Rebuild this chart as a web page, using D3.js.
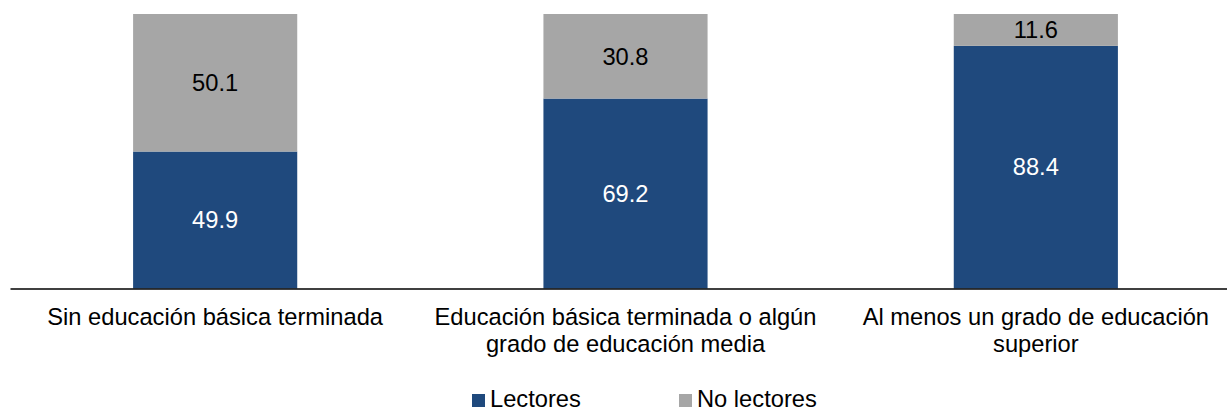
<!DOCTYPE html>
<html>
<head>
<meta charset="utf-8">
<script src="https://cdn.jsdelivr.net/npm/d3@7"></script>
<style>
  body { margin: 0; background: #fff; }
  text { font-family: "Liberation Sans", Arial, sans-serif; }
</style>
</head>
<body>
<div id="chart"></div>
<script>
// chart data
const categories = [
    ["Sin educación básica terminada"],
    ["Educación básica terminada o algún", "grado de educación media"],
    ["Al menos un grado de educación", "superior"]
];
const lectores = [49.9, 69.2, 88.4];
const noLectores = [50.1, 30.8, 11.6];
const seriesNames = ["Lectores", "No lectores"];

const width = 1227, height = 412;
const colors = ["#1f497d", "#a6a6a6"];
const fontSize = 23.7;

let svg = d3.select("#chart")
    .append("svg")
    .attr("width", width)
    .attr("height", height);

// x scale by category index
let x = d3.scaleBand()
    .domain(d3.range(categories.length))
    .range([10, 1241])
    .paddingInner(0.6)
    .paddingOuter(0.3);

let y = d3.scaleLinear()
    .domain([0, 100])
    .range([288.5, 14]);

// stack the two series
let rows = categories.map((c, i) => ({ i: i, lectores: lectores[i], noLectores: noLectores[i] }));
let stack = d3.stack().keys(["lectores", "noLectores"])(rows);

stack.forEach(function(layer, k) {
    svg.append("g")
        .selectAll("rect")
        .data(layer)
        .enter()
        .append("rect")
        .attr("x", d => x(d.data.i))
        .attr("width", x.bandwidth())
        .attr("y", d => y(d[1]))
        .attr("height", d => y(d[0]) - y(d[1]))
        .attr("fill", colors[k]);

    // value labels
    svg.append("g")
        .selectAll("text")
        .data(layer)
        .enter()
        .append("text")
        .attr("x", d => x(d.data.i) + x.bandwidth() / 2)
        .attr("y", d => (y(d[0]) + y(d[1])) / 2)
        .attr("dy", "0.35em")
        .attr("text-anchor", "middle")
        .style("font-size", fontSize + "px")
        .attr("fill", k == 0 ? "#ffffff" : "#000000")
        .text(d => (d[1] - d[0]).toFixed(1));
});

// x axis
let xAxis = svg.append("g")
    .attr("transform", `translate(0, ${y(0)})`)
    .call(d3.axisBottom(x).tickSize(0).tickFormat(""));
xAxis.select(".domain").attr("stroke", "#000").attr("stroke-width", 1.5);

// category labels (wrapped)
categories.forEach(function(lines, i) {
    let t = svg.append("text")
        .attr("text-anchor", "middle")
        .style("font-size", fontSize + "px")
        .attr("fill", "#000");
    lines.forEach(function(line, j) {
        t.append("tspan")
            .attr("x", x(i) + x.bandwidth() / 2)
            .attr("y", 324.5 + j * 27.2)
            .text(line);
    });
});

// legend
let legendX = [472, 679];
seriesNames.forEach(function(name, k) {
    let g = svg.append("g").attr("transform", `translate(${legendX[k]}, 394)`);
    g.append("rect")
        .attr("width", 13)
        .attr("height", 13)
        .attr("fill", colors[k]);
    g.append("text")
        .attr("x", 18)
        .attr("y", 13)
        .style("font-size", fontSize + "px")
        .attr("fill", "#000")
        .text(name);
});
</script>
</body>
</html>
